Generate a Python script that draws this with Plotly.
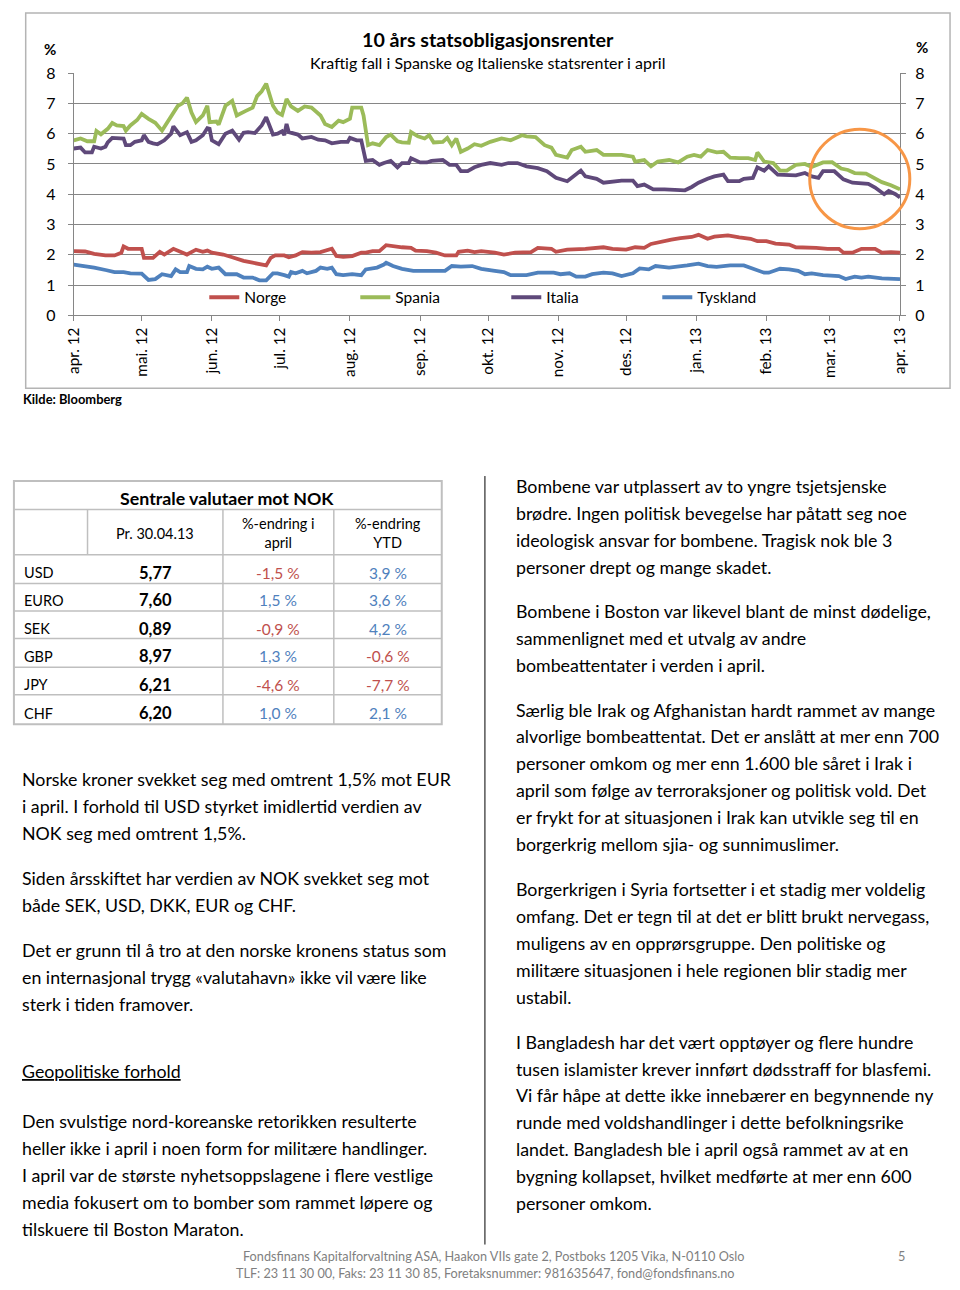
import pandas as pd
import plotly.graph_objects as go

START = pd.Timestamp("2012-04-01")

# ---- Chart data: days since 01.04.2012 and yields (%) ----
norge_day = [0, 5, 9, 14, 18, 21, 22, 24, 30, 31, 35, 38, 40, 44, 50, 54, 57, 59, 61, 66, 70, 75, 79, 83, 85, 87, 89, 93, 95, 98,
             101, 105, 109, 114, 116, 119, 123, 127, 129, 132, 135, 138, 141, 145, 149, 151, 156, 160, 164, 169, 170, 174, 177, 180,
             186, 190, 195, 202, 205, 211, 213, 218, 226, 234, 238, 244, 248, 252, 255, 260, 264, 268, 273, 276, 280, 283, 289, 294,
             299, 302, 306, 310, 316, 319, 323, 328, 333, 338, 340, 344, 348, 354, 357, 361, 365]
norge_val = [2.12, 2.11, 2.03, 1.98, 1.98, 2.07, 2.28, 2.20, 2.20, 1.90, 1.90, 2.10, 2.01, 2.20, 2.01, 2.17, 2.10, 2.14, 2.07, 2.01,
             1.92, 1.80, 1.74, 1.66, 1.65, 1.90, 1.98, 1.98, 1.92, 1.98, 2.09, 2.07, 2.09, 2.20, 1.96, 1.93, 1.96, 2.07, 2.07, 2.12,
             2.12, 2.32, 2.28, 2.25, 2.23, 2.14, 2.12, 2.07, 1.98, 1.98, 2.10, 2.14, 2.09, 2.12,
             2.07, 2.01, 2.07, 2.09, 2.23, 2.20, 2.10, 2.17, 2.20, 2.25, 2.20, 2.17, 2.25, 2.23, 2.36, 2.45, 2.50, 2.55, 2.59, 2.66,
             2.53, 2.60, 2.64, 2.58, 2.53, 2.45, 2.45, 2.37, 2.34, 2.25, 2.25, 2.23, 2.20, 2.20, 2.07, 2.07, 2.20, 2.20, 2.07, 2.09, 2.07]

spania_day = [0, 3, 6, 9, 10, 12, 15, 17, 19, 22, 23, 25, 28, 30, 33, 36, 39, 43, 46, 48, 50, 52, 54, 57, 59, 60, 63, 64, 67, 70,
              72, 76, 79, 81, 83, 85, 88, 90, 92, 94, 96, 99, 102, 105, 109, 111, 114, 117, 119, 122, 123, 127, 128, 130, 132, 135,
              138, 140, 143, 145, 148, 149, 152, 155, 157, 159, 163, 165, 167, 169, 171, 174, 177, 180,
              184, 189, 193, 198, 200, 204, 208, 211, 213, 218, 220, 224, 226, 231, 234, 238, 242, 247, 248, 252, 255, 258, 263, 267,
              271, 274, 277, 280, 284, 287, 290, 294, 298, 301, 302, 305, 309, 312, 315, 319, 323, 326, 331, 335, 339, 342, 345, 350,
              353, 357, 361, 363, 365]
spania_val = [5.78, 5.84, 5.75, 5.75, 6.09, 5.98, 6.16, 6.35, 6.27, 6.25, 6.10, 6.27, 6.45, 6.65, 6.49, 6.36, 6.10, 6.60, 6.92, 7.00,
              7.19, 6.70, 6.38, 6.60, 6.92, 6.38, 6.40, 6.30, 6.92, 7.08, 6.60, 6.75, 6.86, 7.24, 7.40, 7.65, 6.92, 6.70, 6.62, 7.14,
              6.90, 6.75, 6.90, 6.86, 6.60, 6.32, 6.22, 6.43, 6.38, 6.49, 6.86, 6.86, 6.60, 5.62, 5.68, 5.62, 5.89, 5.97, 5.75, 5.71,
              5.70, 6.05, 5.91, 5.84, 5.95, 5.71, 5.73, 5.86, 5.62, 5.84, 5.40, 5.51, 5.65, 5.60,
              5.73, 5.84, 5.78, 5.95, 5.91, 5.89, 5.62, 5.54, 5.30, 5.21, 5.46, 5.57, 5.40, 5.46, 5.30, 5.30, 5.30, 5.24, 5.08, 5.13,
              4.92, 5.08, 5.13, 5.05, 5.24, 5.30, 5.24, 5.46, 5.38, 5.40, 5.21, 5.19, 5.19, 5.13, 5.38, 5.08, 5.03, 4.78, 4.78, 4.97,
              5.00, 4.90, 5.05, 5.06, 4.85, 4.80, 4.70, 4.68, 4.57, 4.40, 4.30, 4.22, 4.16]

italia_day = [0, 3, 5, 8, 9, 12, 14, 15, 17, 20, 22, 23, 25, 27, 30, 31, 33, 35, 37, 40, 43, 44, 47, 50, 52, 54, 57, 59, 60, 61,
              64, 67, 70, 73, 75, 77, 80, 83, 85, 88, 90, 92, 93, 94, 95, 99, 101, 105, 108, 111, 114, 118, 121, 122, 125, 127, 129,
              132, 135, 137, 140, 143, 145, 148, 149, 153, 156, 158, 161, 163, 166, 169, 171, 174, 177, 180,
              184, 189, 192, 196, 200, 205, 209, 213, 218, 221, 224, 226, 231, 234, 238, 242, 247, 249, 252, 256, 261, 266, 270, 273,
              276, 280, 283, 287, 289, 294, 296, 300, 302, 305, 307, 311, 315, 319, 323, 326, 329, 331, 336, 340, 344, 348, 351, 354,
              358, 360, 363, 365]
italia_val = [5.51, 5.54, 5.38, 5.38, 5.57, 5.51, 5.57, 5.71, 5.86, 5.84, 5.84, 5.62, 5.62, 5.73, 5.78, 5.95, 5.73, 5.68, 5.65, 5.78,
              6.00, 6.24, 5.95, 6.05, 5.73, 5.78, 5.95, 6.18, 6.16, 5.78, 5.65, 6.00, 6.10, 5.80, 6.03, 6.05, 6.02, 6.27, 6.54, 5.97,
              6.00, 6.08, 5.95, 6.32, 6.05, 5.97, 5.84, 5.89, 5.80, 5.78, 5.68, 5.73, 5.73, 5.86, 5.78, 5.78, 5.10, 5.13, 4.97, 5.03,
              5.10, 4.89, 5.03, 5.03, 5.19, 5.05, 5.05, 5.10, 5.10, 5.13, 4.97, 4.97, 4.76, 4.76, 4.89, 4.97,
              5.03, 4.97, 5.03, 5.03, 4.92, 4.86, 4.76, 4.54, 4.43, 4.59, 4.78, 4.59, 4.51, 4.38, 4.43, 4.45, 4.45, 4.27, 4.32, 4.16,
              4.16, 4.16, 4.13, 4.24, 4.38, 4.51, 4.59, 4.65, 4.43, 4.43, 4.51, 4.54, 4.89, 4.78, 4.92, 4.65, 4.65, 4.62, 4.70, 4.59,
              4.54, 4.76, 4.76, 4.49, 4.38, 4.35, 4.34, 4.22, 4.00, 4.11, 4.00, 3.89]

tyskland_day = [0, 5, 9, 14, 18, 22, 25, 30, 33, 36, 39, 43, 45, 47, 50, 51, 54, 57, 59, 61, 64, 67, 72, 75, 79, 82, 85, 88, 90, 93,
                95, 96, 98, 101, 103, 107, 109, 112, 114, 116, 119, 123, 127, 129, 134, 137, 138, 141, 145, 150, 156, 160, 164, 167,
                171, 176, 180,
                186, 190, 193, 200, 205, 212, 215, 219, 222, 226, 229, 234, 238, 242, 247, 250, 254, 257, 263, 267, 271, 276, 280, 284,
                290, 296, 300, 305, 307, 312, 316, 320, 323, 326, 331, 335, 338, 341, 345, 348, 351, 357, 361, 365]
tyskland_val = [1.68, 1.63, 1.58, 1.50, 1.43, 1.43, 1.39, 1.38, 1.17, 1.20, 1.36, 1.30, 1.52, 1.43, 1.43, 1.63, 1.54, 1.52, 1.61, 1.54,
                1.58, 1.36, 1.36, 1.25, 1.25, 1.16, 1.16, 1.39, 1.39, 1.33, 1.28, 1.43, 1.39, 1.47, 1.39, 1.47, 1.58, 1.54, 1.58, 1.36,
                1.33, 1.36, 1.33, 1.52, 1.58, 1.68, 1.74, 1.63, 1.54, 1.47, 1.47, 1.47, 1.47, 1.63, 1.61, 1.63, 1.54,
                1.47, 1.43, 1.33, 1.33, 1.41, 1.41, 1.36, 1.39, 1.28, 1.28, 1.36, 1.41, 1.39, 1.30, 1.39, 1.55, 1.52, 1.63, 1.58, 1.60,
                1.65, 1.71, 1.63, 1.60, 1.65, 1.65, 1.54, 1.41, 1.41, 1.54, 1.52, 1.47, 1.36, 1.39, 1.33, 1.30, 1.30, 1.20, 1.28, 1.25,
                1.28, 1.22, 1.21, 1.20]

series_names = ["Norge", "Spania", "Italia", "Tyskland"]
series_colors = ["#C0504D", "#9BBB59", "#5F497A", "#4F81BD"]

month_labels = ["apr. 12", "mai. 12", "jun. 12", "jul. 12", "aug. 12", "sep. 12", "okt. 12", "nov. 12",
                "des. 12", "jan. 13", "feb. 13", "mar. 13", "apr. 13"]
y_ticks = [0, 1, 2, 3, 4, 5, 6, 7, 8]

chart_title = "10 års statsobligasjonsrenter"
chart_subtitle = "Kraftig fall i Spanske og Italienske statsrenter i april"
source_text = "Kilde: Bloomberg"

# ---- Table data ----
table_title = "Sentrale valutaer mot NOK"
table_headers = ["Pr. 30.04.13", "%-endring i<br>april", "%-endring<br>YTD"]
currencies = ["USD", "EURO", "SEK", "GBP", "JPY", "CHF"]
rate_nok = [5.77, 7.60, 0.89, 8.97, 6.21, 6.20]
chg_april = [-1.5, 1.5, -0.9, 1.3, -4.6, 1.0]
chg_ytd = [3.9, 3.6, 4.2, -0.6, -7.7, 2.1]

# ---- Body text ----
left_paragraphs = [
    ["Norske kroner svekket seg med omtrent 1,5% mot EUR",
     "i april. I forhold til USD styrket imidlertid verdien av",
     "NOK seg med omtrent 1,5%."],
    ["Siden årsskiftet har verdien av NOK svekket seg mot",
     "både SEK, USD, DKK, EUR og CHF."],
    ["Det er grunn til å tro at den norske kronens status som",
     "en internasjonal trygg «valutahavn» ikke vil være like",
     "sterk i tiden framover."],
    ["<u>Geopolitiske forhold</u>"],
    ["Den svulstige nord-koreanske retorikken resulterte",
     "heller ikke i april i noen form for militære handlinger.",
     "I april var de største nyhetsoppslagene i flere vestlige",
     "media fokusert om to bomber som rammet løpere og",
     "tilskuere til Boston Maraton."],
]
right_paragraphs = [
    ["Bombene var utplassert av to yngre tsjetsjenske",
     "brødre. Ingen politisk bevegelse har påtatt seg noe",
     "ideologisk ansvar for bombene. Tragisk nok ble 3",
     "personer drept og mange skadet."],
    ["Bombene i Boston var likevel blant de minst dødelige,",
     "sammenlignet med et utvalg av andre",
     "bombeattentater i verden i april."],
    ["Særlig ble Irak og Afghanistan hardt rammet av mange",
     "alvorlige bombeattentat. Det er anslått at mer enn 700",
     "personer omkom og mer enn 1.600 ble såret i Irak i",
     "april som følge av terroraksjoner og politisk vold. Det",
     "er frykt for at situasjonen i Irak kan utvikle seg til en",
     "borgerkrig mellom sjia- og sunnimuslimer."],
    ["Borgerkrigen i Syria fortsetter i et stadig mer voldelig",
     "omfang. Det er tegn til at det er blitt brukt nervegass,",
     "muligens av en opprørsgruppe. Den politiske og",
     "militære situasjonen i hele regionen blir stadig mer",
     "ustabil."],
    ["I Bangladesh har det vært opptøyer og flere hundre",
     "tusen islamister krever innført dødsstraff for blasfemi.",
     "Vi får håpe at dette ikke innebærer en begynnende ny",
     "runde med voldshandlinger i dette befolkningsrike",
     "landet. Bangladesh ble i april også rammet av at en",
     "bygning kollapset, hvilket medførte at mer enn 600",
     "personer omkom."],
]
footer_lines = ["Fondsfinans Kapitalforvaltning ASA, Haakon VIIs gate 2, Postboks 1205 Vika, N-0110 Oslo",
                "TLF: 23 11 30 00, Faks: 23 11 30 85, Foretaksnummer: 981635647, fond@fondsfinans.no"]
page_number = "5"

# ================= layout helpers =================
W, H = 960, 1290
FONT = "Lato"


def px(x):
    return x / W


def py(y):
    return 1 - y / H


fig = go.Figure()

series = [(norge_day, norge_val), (spania_day, spania_val), (italia_day, italia_val), (tyskland_day, tyskland_val)]
for (days, vals), name, color in zip(series, series_names, series_colors):
    dates = START + pd.to_timedelta(days, unit="D")
    fig.add_trace(go.Scatter(x=dates, y=vals, name=name, mode="lines",
                             line=dict(color=color, width=3.8)))

# invisible trace so the right-hand axis is drawn
fig.add_trace(go.Scatter(x=[START], y=[None], yaxis="y2", showlegend=False, hoverinfo="skip"))

tick_dates = pd.date_range(START, periods=len(month_labels), freq="MS")

AX = "#868686"
fig.update_layout(
    width=W, height=H, margin=dict(l=0, r=0, t=0, b=0),
    paper_bgcolor="white", plot_bgcolor="white",
    font=dict(family=FONT, color="#000000"),
    showlegend=True,
    legend=dict(orientation="h", x=px(198), y=py(292), xanchor="left", yanchor="middle",
                entrywidth=106, entrywidthmode="pixels", font=dict(size=15.5, family=FONT),
                bgcolor="rgba(0,0,0,0)", itemwidth=30, tracegroupgap=0),
    xaxis=dict(domain=[px(65), px(907)], type="date",
               range=[START, tick_dates[-1]],
               tickvals=tick_dates, ticktext=month_labels, tickangle=-90,
               ticks="outside", ticklen=5, tickcolor=AX, tickfont=dict(size=15.3),
               ticklabelstandoff=0,
               showgrid=False, showline=True, linecolor=AX, linewidth=1, zeroline=False),
    yaxis=dict(domain=[py(310), py(64)], range=[0, 8], tickvals=y_ticks,
               ticks="outside", ticklen=5, tickcolor=AX, tickfont=dict(size=16),
               ticklabelstandoff=9,
               showgrid=True, gridcolor=AX, gridwidth=1, showline=True, linecolor=AX, zeroline=False),
    yaxis2=dict(overlaying="y", side="right", range=[0, 8], tickvals=y_ticks,
                ticks="outside", ticklen=5, tickcolor=AX, tickfont=dict(size=16),
                ticklabelstandoff=6,
                showgrid=False, showline=True, linecolor=AX, zeroline=False),
)

annotations = []
shapes = []


def text(x, y, s, size=17, bold=False, color="#000000", xanchor="left", yanchor="middle"):
    if bold:
        s = "<b>" + s + "</b>"
    annotations.append(dict(x=px(x), y=py(y), xref="paper", yref="paper", text=s, showarrow=False,
                            xanchor=xanchor, yanchor=yanchor, align="center" if xanchor == "center" else "left",
                            font=dict(size=size, color=color, family=FONT)))


# chart frame, titles, axis units, highlight circle
shapes.append(dict(type="rect", xref="paper", yref="paper", x0=px(16), x1=px(958), y0=py(384), y1=py(3),
                   line=dict(color="#B4B4B4", width=1.5)))
shapes.append(dict(type="circle", xref="paper", yref="paper", x0=px(815), x1=px(917), y0=py(222), y1=py(121),
                   line=dict(color="#F79646", width=3)))
text(487, 30, chart_title, size=19.7, bold=True, xanchor="center")
text(487, 53, chart_subtitle, size=16, xanchor="center")
text(41, 40, "%", size=15, bold=True, xanchor="center")
text(929, 38, "%", size=15, bold=True, xanchor="center")
text(11, 395, source_text, size=12.9, bold=True)

# ---- table ----
T_L, T_R, T_TOP = 4, 440, 478
row_lines = [507, 553, 582, 610, 638, 667, 695, 725]
col_lines = [217, 330]
GRID = "#BFBFBF"
shapes.append(dict(type="rect", xref="paper", yref="paper", x0=px(T_L), x1=px(T_R), y0=py(row_lines[-1]), y1=py(T_TOP),
                   line=dict(color=GRID, width=2)))
for yl in row_lines[:-1]:
    shapes.append(dict(type="line", xref="paper", yref="paper", x0=px(T_L), x1=px(T_R), y0=py(yl), y1=py(yl),
                       line=dict(color=GRID, width=1.5)))
for xl in col_lines:
    shapes.append(dict(type="line", xref="paper", yref="paper", x0=px(xl), x1=px(xl),
                       y0=py(row_lines[0]), y1=py(row_lines[-1]), line=dict(color=GRID, width=1.5)))
shapes.append(dict(type="line", xref="paper", yref="paper", x0=px(79), x1=px(79),
                   y0=py(row_lines[0]), y1=py(row_lines[1]), line=dict(color=GRID, width=1.5)))

text(221, 495, table_title, size=17.8, bold=True, xanchor="center")
col_centers = [148, 273, 385]
for cx, hdr in zip(col_centers, table_headers):
    text(cx, 531, hdr, size=14.5, xanchor="center")

RED, BLUE = "#C0504D", "#4F81BD"
row_y = [571, 599, 628, 656, 685, 714]


def pct(v):
    return f"{v:.1f}".replace(".", ",") + " %"


for i, cur in enumerate(currencies):
    yy = row_y[i]
    text(12, yy, cur, size=14.5)
    text(col_centers[0], yy, f"{rate_nok[i]:.2f}".replace(".", ","), size=16.5, bold=True, xanchor="center")
    text(col_centers[1], yy, pct(chg_april[i]), size=15.5, xanchor="center",
         color=RED if chg_april[i] < 0 else BLUE)
    text(col_centers[2], yy, pct(chg_ytd[i]), size=15.5, xanchor="center",
         color=RED if chg_ytd[i] < 0 else BLUE)

# ---- body text ----
LINE = 27.35
left_starts = [781, 881, 954, 1077, 1128]
right_starts = [483, 610, 710, 892, 1047]
for paras, starts, x0 in ((left_paragraphs, left_starts, 10), (right_paragraphs, right_starts, 514)):
    for para, y0 in zip(paras, starts):
        for k, line in enumerate(para):
            text(x0, y0 + k * LINE, line, size=17.8)

shapes.append(dict(type="line", xref="paper", yref="paper", x0=px(484), x1=px(484), y0=py(1253), y1=py(473),
                   line=dict(color="#000000", width=1)))

# ---- footer ----
text(493, 1265, footer_lines[0], size=12.7, color="#7F7F7F", xanchor="center")
text(485, 1282, footer_lines[1], size=12.7, color="#7F7F7F", xanchor="center")
text(909, 1265, page_number, size=12.7, color="#7F7F7F", xanchor="center")

fig.update_layout(annotations=annotations, shapes=shapes)

fig.write_html("out.html", config={"displayModeBar": False},
               post_script="document.body.style.margin='0';")
